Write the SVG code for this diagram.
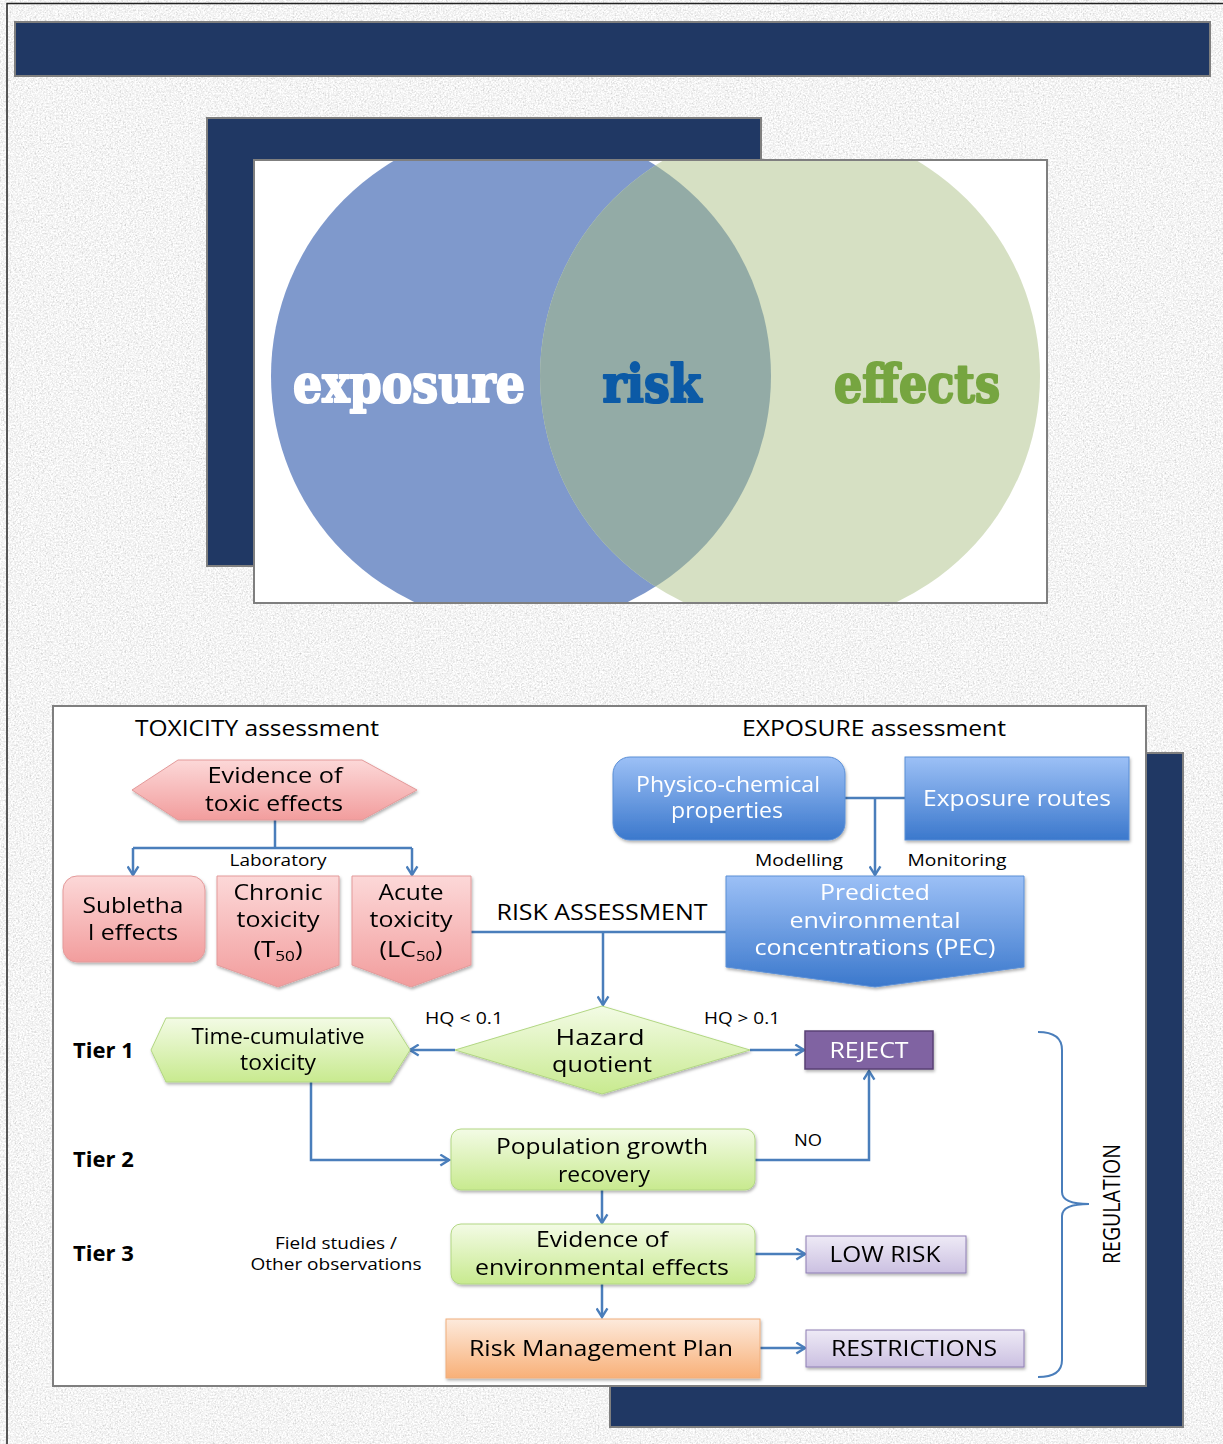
<svg xmlns="http://www.w3.org/2000/svg" width="1223" height="1444" viewBox="0 0 1223 1444">
<style>
.t{font-family:"Open Sans","DejaVu Sans",sans-serif;font-size:21px;fill:#000}
.s{font-size:16px}
.w{fill:#fff}
.b{font-weight:bold;font-size:22px}
.v{font-family:"DejaVu Serif","Liberation Serif",serif;font-weight:bold;font-size:52px;stroke-width:2.2;stroke-linejoin:round}
.navy{fill:#203864;stroke:#7f7f7f;stroke-width:2}
.frame{fill:#fff;stroke:#7f7f7f;stroke-width:2}
.pink{fill:url(#gPink);stroke:#e39a9a;stroke-width:1}
.blue{fill:url(#gBlue);stroke:#5b8fd6;stroke-width:1}
.green{fill:url(#gGreen);stroke:#b2d783;stroke-width:1}
.orange{fill:url(#gOrange);stroke:#f0ae7c;stroke-width:1}
.lav{fill:url(#gLav);stroke:#8e7fb4;stroke-width:1}
.purple{fill:#8064a2;stroke:#5a4275;stroke-width:1.5}
.c{fill:none;stroke:#4a7ebb;stroke-width:2.5}
.a{marker-end:url(#arr)}
</style>
<defs>
<filter id="noise" x="0" y="0" width="100%" height="100%">
<feTurbulence type="fractalNoise" baseFrequency="0.6" numOctaves="3" seed="7" result="t"/>
<feColorMatrix in="t" type="matrix" values="0.33 0.33 0.33 0 0 0.33 0.33 0.33 0 0 0.33 0.33 0.33 0 0 0 0 0 0 1"/>
<feComponentTransfer>
<feFuncR type="linear" slope="1.1" intercept="0.36"/>
<feFuncG type="linear" slope="1.1" intercept="0.36"/>
<feFuncB type="linear" slope="1.1" intercept="0.36"/>
</feComponentTransfer>
</filter>
<filter id="sh" x="-10%" y="-10%" width="120%" height="130%">
<feDropShadow dx="1" dy="2" stdDeviation="1.5" flood-color="#000" flood-opacity="0.3"/>
</filter>
<linearGradient id="gPink" x1="0" y1="0" x2="0" y2="1"><stop offset="0" stop-color="#fcd8d8"/><stop offset="1" stop-color="#f29d9d"/></linearGradient>
<linearGradient id="gBlue" x1="0" y1="0" x2="0" y2="1"><stop offset="0" stop-color="#9cc0f6"/><stop offset="1" stop-color="#3b78cc"/></linearGradient>
<linearGradient id="gGreen" x1="0" y1="0" x2="0" y2="1"><stop offset="0" stop-color="#f3fbe5"/><stop offset="1" stop-color="#c8ea8f"/></linearGradient>
<linearGradient id="gOrange" x1="0" y1="0" x2="0" y2="1"><stop offset="0" stop-color="#fdeadc"/><stop offset="1" stop-color="#f8b078"/></linearGradient>
<linearGradient id="gLav" x1="0" y1="0" x2="0" y2="1"><stop offset="0" stop-color="#eeeaf6"/><stop offset="1" stop-color="#cbc0e1"/></linearGradient>
<clipPath id="vclip"><rect x="255" y="161" width="791" height="441"/></clipPath>
<clipPath id="rc"><circle cx="790" cy="376" r="250"/></clipPath>
<marker id="arr" viewBox="0 0 12 12" refX="10" refY="6" markerWidth="13" markerHeight="13" markerUnits="userSpaceOnUse" orient="auto">
<path d="M2,1 L10,6 L2,11" fill="none" stroke="#4a7ebb" stroke-width="2.2"/>
</marker>
</defs>

<!-- background -->
<rect x="0" y="0" width="1223" height="1444" fill="#e6e6e6"/>
<rect x="0" y="0" width="1223" height="1444" filter="url(#noise)"/>
<path d="M7,1444 V3.5 H1223" fill="none" stroke="#222" stroke-width="1.5"/>

<!-- title banner -->
<rect id="banner" x="15" y="22" width="1195" height="54" class="navy"/>

<!-- Venn -->
<g id="venn">
<rect x="207" y="118" width="554" height="448" class="navy"/>
<rect x="254" y="160" width="793" height="443" class="frame"/>
<g clip-path="url(#vclip)">
<circle cx="521" cy="376" r="250" fill="#7f99cc"/>
<circle cx="790" cy="376" r="250" fill="#d6e0c3"/>
<circle cx="521" cy="376" r="250" fill="#93aba6" clip-path="url(#rc)"/>
</g>
<text class="v" x="409" y="402" text-anchor="middle" textLength="232" lengthAdjust="spacingAndGlyphs" fill="#fff" stroke="#fff">exposure</text>
<text class="v" x="652" y="402" text-anchor="middle" textLength="99" lengthAdjust="spacingAndGlyphs" fill="#0c5aa6" stroke="#0c5aa6">risk</text>
<text class="v" x="917" y="402" text-anchor="middle" textLength="166" lengthAdjust="spacingAndGlyphs" fill="#76a540" stroke="#76a540">effects</text>
</g>

<!-- flowchart frame -->
<rect x="610" y="753" width="573" height="674" class="navy"/>
<rect x="53" y="706" width="1093" height="680" class="frame"/>

<g id="headers">
<text class="t" x="257" y="736" text-anchor="middle" textLength="244" lengthAdjust="spacingAndGlyphs">TOXICITY assessment</text>
<text class="t" x="874" y="736" text-anchor="middle" textLength="264" lengthAdjust="spacingAndGlyphs">EXPOSURE assessment</text>
<text class="t" x="602" y="920" text-anchor="middle" textLength="211" lengthAdjust="spacingAndGlyphs">RISK ASSESSMENT</text>
<text class="t b" x="73" y="1058">Tier 1</text>
<text class="t b" x="73" y="1167">Tier 2</text>
<text class="t b" x="73" y="1261">Tier 3</text>
</g>

<!-- connectors -->
<g id="connectors">
<path class="c" d="M275,820 V848"/>
<path class="c a" d="M133,848 V875"/>
<path class="c a" d="M412,848 V875"/>
<path class="c" d="M133,848 H412"/>
<path class="c" d="M471,932 H726"/>
<path class="c a" d="M603,932 V1005"/>
<path class="c" d="M845,798 H905"/>
<path class="c a" d="M875,798 V875"/>
<path class="c a" d="M455,1050 H410"/>
<path class="c a" d="M750,1050 H804"/>
<path class="c a" d="M311,1082 V1160 H449"/>
<path class="c a" d="M755,1160 H869 V1071"/>
<path class="c a" d="M602,1190 V1223"/>
<path class="c a" d="M755,1254 H805"/>
<path class="c a" d="M602,1284 V1317"/>
<path class="c a" d="M760,1348 H805"/>
<path id="bracket" fill="none" stroke="#4a7ebb" stroke-width="2" d="M1038,1032 Q1062,1032 1062,1050 V1192 Q1062,1204 1089,1204 Q1062,1204 1062,1216 V1360 Q1062,1377 1038,1377"/>
</g>

<g id="edge-labels">
<text class="t s" x="278" y="866" text-anchor="middle" textLength="97" lengthAdjust="spacingAndGlyphs">Laboratory</text>
<text class="t s" x="799" y="866" text-anchor="middle" textLength="88" lengthAdjust="spacingAndGlyphs">Modelling</text>
<text class="t s" x="957" y="866" text-anchor="middle" textLength="99" lengthAdjust="spacingAndGlyphs">Monitoring</text>
<text class="t s" x="464" y="1024" text-anchor="middle" textLength="78" lengthAdjust="spacingAndGlyphs">HQ &lt; 0.1</text>
<text class="t s" x="742" y="1024" text-anchor="middle" textLength="76" lengthAdjust="spacingAndGlyphs">HQ &gt; 0.1</text>
<text class="t s" x="808" y="1146" text-anchor="middle" textLength="28" lengthAdjust="spacingAndGlyphs">NO</text>
<text class="t s" x="336" y="1249" text-anchor="middle" textLength="122" lengthAdjust="spacingAndGlyphs">Field studies /</text>
<text class="t s" x="336" y="1270" text-anchor="middle" textLength="171" lengthAdjust="spacingAndGlyphs">Other observations</text>
<text class="t" transform="translate(1120,1204) rotate(-90)" text-anchor="middle" textLength="120" lengthAdjust="spacingAndGlyphs" style="font-size:23px">REGULATION</text>
</g>

<g id="evidence-toxic" filter="url(#sh)">
<polygon class="pink" points="132,790 178,760 362,760 417,790 362,820 178,820"/>
<text class="t" x="275" y="783" text-anchor="middle" textLength="135" lengthAdjust="spacingAndGlyphs">Evidence of</text>
<text class="t" x="274" y="811" text-anchor="middle" textLength="138" lengthAdjust="spacingAndGlyphs">toxic effects</text>
</g>

<g id="sublethal" filter="url(#sh)">
<rect class="pink" x="63" y="876" width="142" height="86" rx="14"/>
<text class="t" x="133" y="913" text-anchor="middle" textLength="101" lengthAdjust="spacingAndGlyphs">Subletha</text>
<text class="t" x="133" y="940" text-anchor="middle" textLength="90" lengthAdjust="spacingAndGlyphs">l effects</text>
</g>

<g id="chronic" filter="url(#sh)">
<polygon class="pink" points="217,876 339,876 339,965 278,987 217,965"/>
<text class="t" x="278" y="900" text-anchor="middle" textLength="89" lengthAdjust="spacingAndGlyphs">Chronic</text>
<text class="t" x="278" y="927" text-anchor="middle" textLength="83" lengthAdjust="spacingAndGlyphs">toxicity</text>
<text class="t" x="278" y="957" text-anchor="middle" textLength="49" lengthAdjust="spacingAndGlyphs">(T<tspan font-size="14" dy="4">50</tspan><tspan dy="-4">)</tspan></text>
</g>

<g id="acute" filter="url(#sh)">
<polygon class="pink" points="352,876 471,876 471,965 411,987 352,965"/>
<text class="t" x="411" y="900" text-anchor="middle" textLength="65" lengthAdjust="spacingAndGlyphs">Acute</text>
<text class="t" x="411" y="927" text-anchor="middle" textLength="83" lengthAdjust="spacingAndGlyphs">toxicity</text>
<text class="t" x="411" y="957" text-anchor="middle" textLength="63" lengthAdjust="spacingAndGlyphs">(LC<tspan font-size="14" dy="4">50</tspan><tspan dy="-4">)</tspan></text>
</g>

<g id="physico" filter="url(#sh)">
<rect class="blue" x="613" y="757" width="232" height="83" rx="17"/>
<text class="t w" x="728" y="792" text-anchor="middle" textLength="184" lengthAdjust="spacingAndGlyphs">Physico-chemical</text>
<text class="t w" x="727" y="818" text-anchor="middle" textLength="112" lengthAdjust="spacingAndGlyphs">properties</text>
</g>

<g id="routes" filter="url(#sh)">
<rect class="blue" x="905" y="757" width="224" height="83"/>
<text class="t w" x="1017" y="806" text-anchor="middle" textLength="188" lengthAdjust="spacingAndGlyphs">Exposure routes</text>
</g>

<g id="pec" filter="url(#sh)">
<polygon class="blue" points="726,876 1024,876 1024,967 875,987 726,967"/>
<text class="t w" x="875" y="900" text-anchor="middle" textLength="110" lengthAdjust="spacingAndGlyphs">Predicted</text>
<text class="t w" x="875" y="928" text-anchor="middle" textLength="171" lengthAdjust="spacingAndGlyphs">environmental</text>
<text class="t w" x="875" y="955" text-anchor="middle" textLength="241" lengthAdjust="spacingAndGlyphs">concentrations (PEC)</text>
</g>

<g id="hazard" filter="url(#sh)">
<polygon class="green" points="455,1050 602,1006 750,1050 602,1094"/>
<text class="t" x="600" y="1045" text-anchor="middle" textLength="89" lengthAdjust="spacingAndGlyphs">Hazard</text>
<text class="t" x="602" y="1072" text-anchor="middle" textLength="100" lengthAdjust="spacingAndGlyphs">quotient</text>
</g>

<g id="timecum" filter="url(#sh)">
<polygon class="green" points="151,1050 166,1018 390,1018 410,1050 390,1082 166,1082"/>
<text class="t" x="278" y="1044" text-anchor="middle" textLength="173" lengthAdjust="spacingAndGlyphs">Time-cumulative</text>
<text class="t" x="278" y="1070" text-anchor="middle" textLength="76" lengthAdjust="spacingAndGlyphs">toxicity</text>
</g>

<g id="reject" filter="url(#sh)">
<rect class="purple" x="805" y="1031" width="128" height="38"/>
<text class="t w" x="869" y="1058" text-anchor="middle" textLength="79" lengthAdjust="spacingAndGlyphs">REJECT</text>
</g>

<g id="population" filter="url(#sh)">
<rect class="green" x="451" y="1129" width="304" height="61" rx="10"/>
<text class="t" x="602" y="1154" text-anchor="middle" textLength="212" lengthAdjust="spacingAndGlyphs">Population growth</text>
<text class="t" x="604" y="1182" text-anchor="middle" textLength="92" lengthAdjust="spacingAndGlyphs">recovery</text>
</g>

<g id="evidence-env" filter="url(#sh)">
<rect class="green" x="451" y="1224" width="304" height="60" rx="10"/>
<text class="t" x="602" y="1247" text-anchor="middle" textLength="132" lengthAdjust="spacingAndGlyphs">Evidence of</text>
<text class="t" x="602" y="1275" text-anchor="middle" textLength="254" lengthAdjust="spacingAndGlyphs">environmental effects</text>
</g>

<g id="lowrisk" filter="url(#sh)">
<rect class="lav" x="806" y="1236" width="160" height="37"/>
<text class="t" x="885" y="1262" text-anchor="middle" textLength="111" lengthAdjust="spacingAndGlyphs">LOW RISK</text>
</g>

<g id="rmp" filter="url(#sh)">
<rect class="orange" x="446" y="1319" width="314" height="59"/>
<text class="t" x="601" y="1356" text-anchor="middle" textLength="264" lengthAdjust="spacingAndGlyphs">Risk Management Plan</text>
</g>

<g id="restrictions" filter="url(#sh)">
<rect class="lav" x="806" y="1330" width="218" height="37"/>
<text class="t" x="914" y="1356" text-anchor="middle" textLength="166" lengthAdjust="spacingAndGlyphs">RESTRICTIONS</text>
</g>
</svg>
